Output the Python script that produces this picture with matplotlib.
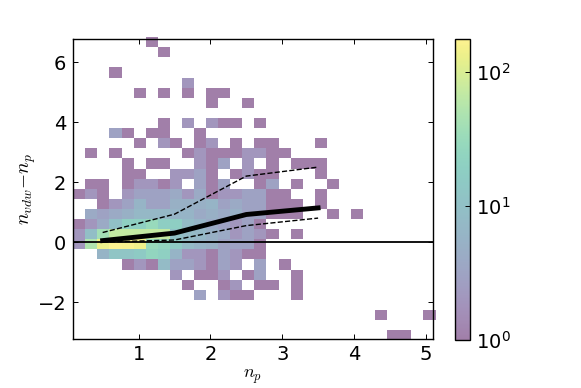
import matplotlib
matplotlib.use("Agg")
import matplotlib.pyplot as plt
import numpy as np
from matplotlib.colors import LogNorm

# counts per cell, top row first, 30 rows x 30 columns
counts = np.array([
    [0,0,0,0,0,0,1,0,0,0,0,0,0,0,0,0,0,0,0,0,0,0,0,0,0,0,0,0,0,0],
    [0,0,0,0,0,0,0,1,0,0,0,0,0,0,0,0,0,0,0,0,0,0,0,0,0,0,0,0,0,0],
    [0,0,0,0,0,0,0,0,0,0,0,0,0,0,0,0,0,0,0,0,0,0,0,0,0,0,0,0,0,0],
    [0,0,0,1,0,0,0,0,0,0,0,0,0,0,0,0,0,0,0,0,0,0,0,0,0,0,0,0,0,0],
    [0,0,0,0,0,0,0,0,0,2,0,0,0,0,0,0,0,0,0,0,0,0,0,0,0,0,0,0,0,0],
    [0,0,0,0,0,1,0,1,0,1,0,1,1,0,0,0,0,0,0,0,0,0,0,0,0,0,0,0,0,0],
    [0,0,0,0,0,0,0,0,0,0,0,1,0,0,1,0,0,0,0,0,0,0,0,0,0,0,0,0,0,0],
    [0,0,0,0,0,0,0,0,0,0,0,0,0,0,0,0,0,0,0,0,0,0,0,0,0,0,0,0,0,0],
    [0,0,0,0,0,0,0,1,0,2,0,2,1,1,0,1,0,0,0,0,0,0,0,0,0,0,0,0,0,0],
    [0,0,0,3,1,0,1,1,0,0,1,0,0,0,0,0,0,0,0,0,0,0,0,0,0,0,0,0,0,0],
    [0,0,0,0,0,1,0,2,1,0,1,2,0,1,0,1,1,0,0,0,1,0,0,0,0,0,0,0,0,0],
    [0,1,0,1,0,0,0,0,0,1,2,1,1,1,2,2,1,1,0,0,0,0,0,0,0,0,0,0,0,0],
    [0,0,0,0,1,0,1,1,0,0,2,1,3,0,2,0,1,0,1,1,1,0,0,0,0,0,0,0,0,0],
    [0,0,0,0,1,1,0,0,2,2,3,1,0,1,2,1,1,0,0,0,1,0,0,0,0,0,0,0,0,0],
    [0,1,1,0,1,2,2,1,2,0,3,1,3,0,0,1,3,0,1,0,0,1,0,0,0,0,0,0,0,0],
    [1,2,1,0,2,3,3,3,4,2,4,1,2,2,3,3,1,1,0,0,1,0,0,0,0,0,0,0,0,0],
    [0,0,1,2,3,6,3,3,5,5,5,6,3,4,3,3,1,1,1,0,1,0,0,0,0,0,0,0,0,0],
    [0,4,3,4,5,7,7,7,6,6,4,5,4,5,3,3,1,1,1,0,0,1,0,1,0,0,0,0,0,0],
    [1,2,4,10,20,20,30,18,18,8,6,4,3,2,3,1,0,0,0,0,0,0,0,0,0,0,0,0,0,0],
    [2,9,40,70,70,70,70,70,10,8,7,5,4,2,3,2,1,0,1,0,0,0,0,0,0,0,0,0,0,0],
    [2,50,130,170,160,140,30,25,15,8,6,5,3,3,3,1,0,0,0,0,0,0,0,0,0,0,0,0,0,0],
    [0,0,6,12,12,15,25,20,6,2,2,1,3,2,1,1,0,0,0,0,0,0,0,0,0,0,0,0,0,0],
    [0,0,0,0,1,2,1,8,3,3,2,1,3,2,0,3,0,1,0,0,0,0,0,0,0,0,0,0,0,0],
    [0,0,0,0,0,0,0,0,2,0,1,1,2,0,1,3,0,0,1,0,0,0,0,0,0,0,0,0,0,0],
    [0,0,0,0,0,0,0,0,0,1,0,0,1,2,0,1,1,0,1,0,0,0,0,0,0,0,0,0,0,0],
    [0,0,0,0,0,0,0,0,0,0,3,0,2,1,1,0,0,0,1,0,0,0,0,0,0,0,0,0,0,0],
    [0,0,0,0,0,0,0,0,0,0,0,0,0,0,0,0,0,0,0,0,0,0,0,0,0,0,0,0,0,0],
    [0,0,0,0,0,0,0,0,0,0,0,0,0,0,0,0,0,0,0,0,0,0,0,0,0,1,0,0,0,1],
    [0,0,0,0,0,0,0,0,0,0,0,0,0,0,0,0,0,0,0,0,0,0,0,0,0,0,0,0,0,0],
    [0,0,0,0,0,0,0,0,0,0,0,0,0,0,0,0,0,0,0,0,0,0,0,0,0,0,1,1,0,0],
], dtype=float)

bin_x = [0.5, 1.5, 2.5, 3.5]
median_y = [0.05, 0.3, 0.92, 1.14]
upper_y = [0.32, 0.93, 2.2, 2.5]
lower_y = [0.0, 0.07, 0.55, 0.8]

x_edges = np.linspace(0.09, 5.135, 31)
y_edges = np.linspace(6.83, -3.27, 31)

plt.rcParams['xtick.direction'] = 'in'
plt.rcParams['ytick.direction'] = 'in'
plt.rcParams['xtick.top'] = True
plt.rcParams['ytick.right'] = True
plt.rcParams['axes.linewidth'] = 1.0
plt.rcParams['mathtext.fontset'] = 'cm'

W, H = 581, 388
fig = plt.figure(figsize=(W / 100, H / 100), dpi=100)
ax = fig.add_axes([72.5 / W, 1 - 339 / H, 360.5 / W, 300 / H])

mesh = ax.pcolormesh(x_edges, y_edges, np.ma.masked_equal(counts, 0), cmap='viridis',
                     norm=LogNorm(vmin=1, vmax=176), alpha=0.5, linewidth=0)
mesh.set_clip_on(False)

ax.axhline(0, color='k', lw=1.3)
ax.plot(bin_x, median_y, color='k', lw=3.5)
ax.plot(bin_x, upper_y, color='k', lw=1, ls='--')
ax.plot(bin_x, lower_y, color='k', lw=1, ls='--')

ax.set_xlim(0.08, 5.1)
ax.set_ylim(-3.23, 6.77)
ax.set_xticks([1, 2, 3, 4, 5])
ax.set_yticks([-2, 0, 2, 4, 6])
ax.tick_params(labelsize=14, length=3.5, width=0.7, pad=4.5)
ax.set_xlabel(r'$n_p$', fontsize=13, labelpad=2.5)
ax.set_ylabel(r'$n_{vdw}{-}n_p$', fontsize=14, labelpad=0)

cax = fig.add_axes([455 / W, 1 - 339.5 / H, 15 / W, 300.5 / H])
cb = fig.colorbar(mesh, cax=cax)
cb.set_ticks([1, 10, 100])
cb.ax.minorticks_off()
cb.ax.tick_params(length=3.5, width=0.7, direction='in', right=True, left=False, pad=4.5)
cb.outline.set_linewidth(1.0)
# colorbar labels stay in the sans font
cb.set_ticklabels([r'$\mathdefault{10^{0}}$', r'$\mathdefault{10^{1}}$', r'$\mathdefault{10^{2}}$'], fontsize=14)

fig.savefig("out.png", dpi=100)
